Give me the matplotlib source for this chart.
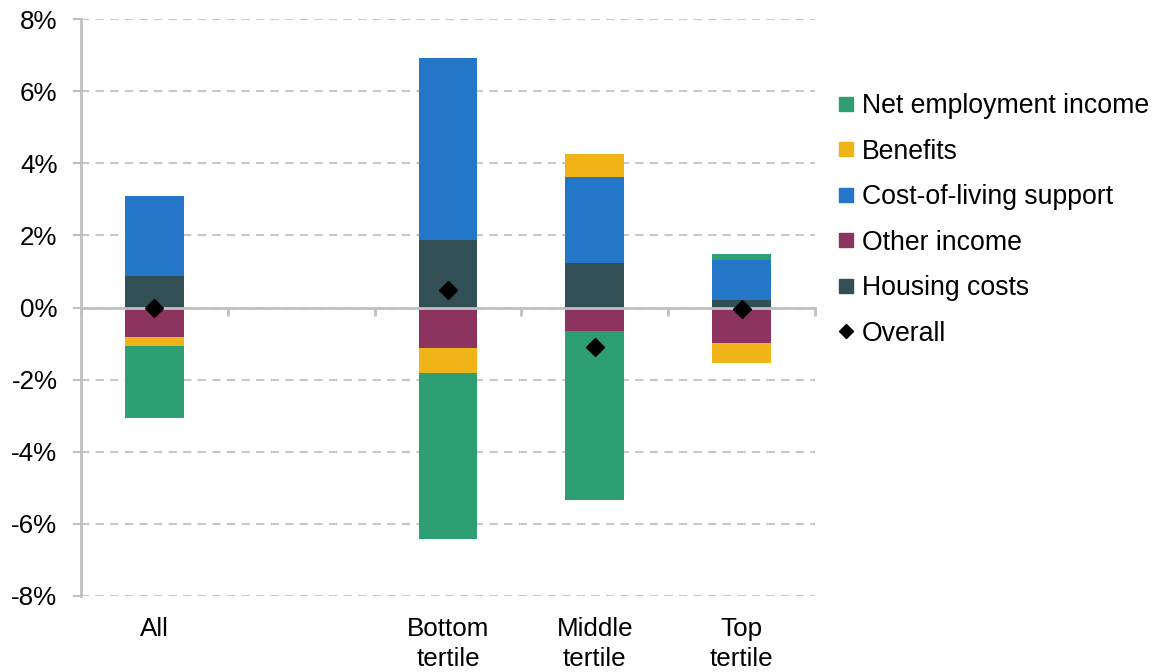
import numpy as np
import matplotlib
matplotlib.use("Agg")
import matplotlib.pyplot as plt
from matplotlib.lines import Line2D

plt.rcParams['font.family'] = ['Liberation Sans', 'DejaVu Sans']

# Data (percentage points)
categories = ["All", "", "Bottom\ntertile", "Middle\ntertile", "Top\ntertile"]
housing = [0.86, 0.0, 1.88, 1.24, 0.22]
other_income = [-0.83, 0.0, -1.12, -0.64, -0.98]
col_support = [2.22, 0.0, 5.03, 2.38, 1.10]
benefits = [-0.23, 0.0, -0.71, 0.64, -0.55]
employment = [-2.01, 0.0, -4.59, -4.71, 0.17]
overall = [-0.02, np.nan, 0.49, -1.10, -0.05]

# stacking order (Excel series order), legend order is the reverse
series = [
    ("Housing costs", housing, "#324F56"),
    ("Other income", other_income, "#8D3360"),
    ("Cost-of-living support", col_support, "#2477C8"),
    ("Benefits", benefits, "#F0B418"),
    ("Net employment income", employment, "#2E9E73"),
]

fig = plt.figure(figsize=(11.56, 6.72), dpi=100)
ax = fig.add_axes([0.0701, 0.1131, 0.6349, 0.8586])

x = np.arange(len(categories))
pos_base = np.zeros(len(categories))
neg_base = np.zeros(len(categories))
for name, vals, col in series:
    vals = np.array(vals)
    bottom = np.where(vals >= 0, pos_base, neg_base)
    ax.bar(x, vals, width=0.4, bottom=bottom, color=col, zorder=2)
    pos_base = pos_base + np.where(vals > 0, vals, 0)
    neg_base = neg_base + np.where(vals < 0, vals, 0)

ax.plot(x, overall, linestyle="none", marker="D", markersize=9.5, color="black", zorder=5)

ax.set_xlim(-0.5, len(categories) - 0.5)
ax.set_ylim(-8, 8)
ax.set_yticks(np.arange(-8, 9, 2))
ax.set_yticklabels([f"{v}%" for v in range(-8, 9, 2)])

ax.yaxis.grid(True, color="#C8C8C8", linewidth=1.5, dashes=(4, 3), zorder=0)
ax.set_axisbelow(True)

for s in ["top", "right"]:
    ax.spines[s].set_visible(False)
ax.spines["left"].set_color("#C0C0C0")
ax.spines["left"].set_linewidth(2)
ax.spines["bottom"].set_position(("data", 0))
ax.spines["bottom"].set_color("#C0C0C0")
ax.spines["bottom"].set_linewidth(2)
ax.spines["bottom"].set_zorder(4)

ax.tick_params(axis="y", length=6, width=1.5, color="#C0C0C0", labelsize=18.7, pad=11)
ax.set_xticks([])
ax.set_xticks(np.arange(-0.5, len(categories), 1.0), minor=True)
ax.tick_params(axis="x", which="minor", length=5.5, width=2, color="#C0C0C0", direction="out")

for i, lab in enumerate(categories):
    ax.text(i, -0.037, lab, transform=ax.get_xaxis_transform(), ha="center", va="top",
            fontsize=18.7, linespacing=1.3)

handles = [Line2D([], [], linestyle="none", marker="s", markersize=9.5, color=c)
           for name, vals, c in series[::-1]]
handles.append(Line2D([], [], linestyle="none", marker="D", markersize=7, color="black"))
labels = [name for name, vals, c in series[::-1]] + ["Overall"]
fig.legend(handles, labels, loc="upper left", bbox_to_anchor=(0.7135, 0.881), frameon=False,
           fontsize=19.2, handlelength=0.6, handletextpad=0.3, labelspacing=0.73, borderpad=0)

fig.savefig("out.png", dpi=100)
